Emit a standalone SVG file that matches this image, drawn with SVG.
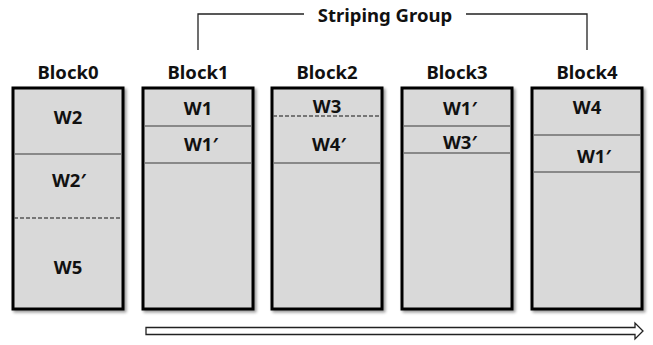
<svg xmlns="http://www.w3.org/2000/svg" width="653" height="345" viewBox="0 0 653 345">
<defs>
<filter id="sh" x="-10%" y="-10%" width="125%" height="125%">
<feGaussianBlur in="SourceAlpha" stdDeviation="1.5"/>
<feOffset dx="2" dy="2" result="b"/>
<feComponentTransfer><feFuncA type="linear" slope="0.4"/></feComponentTransfer>
<feMerge><feMergeNode/><feMergeNode in="SourceGraphic"/></feMerge>
</filter>
</defs>
<style>
.blk{fill:#d9d9d9;stroke:#000;stroke-width:3;filter:url(#sh)}
.sep{stroke:#6e6e6e;stroke-width:1.3}
.dash{stroke:#555;stroke-width:1.3;stroke-dasharray:4 2}
text{font-family:"Noto Sans","Liberation Sans",sans-serif;font-weight:bold;font-size:18.5px;fill:#111;text-anchor:middle}
.ln{fill:none;stroke:#222;stroke-width:1.3}
</style>
<rect width="653" height="345" fill="#fff"/>
<g id="block0">
<text x="68" y="79">Block0</text>
<rect class="blk" x="13" y="88" width="110" height="221"/>
<line class="sep" x1="14" y1="154" x2="122" y2="154"/>
<line class="dash" x1="14" y1="218" x2="122" y2="218"/>
<text x="68" y="124">W2</text>
<text x="69" y="187">W2′</text>
<text x="68" y="274">W5</text>
</g>
<g id="block1">
<text x="198" y="79">Block1</text>
<rect class="blk" x="143" y="88" width="110" height="221"/>
<line class="sep" x1="144" y1="126" x2="252" y2="126"/>
<line class="sep" x1="144" y1="163" x2="252" y2="163"/>
<text x="198" y="115">W1</text>
<text x="201" y="151">W1′</text>
</g>
<g id="block2">
<text x="327" y="79">Block2</text>
<rect class="blk" x="272" y="88" width="110" height="221"/>
<line class="dash" x1="273" y1="116" x2="381" y2="116"/>
<line class="sep" x1="273" y1="163" x2="381" y2="163"/>
<text x="327" y="113">W3</text>
<text x="329" y="151">W4′</text>
</g>
<g id="block3">
<text x="457" y="79">Block3</text>
<rect class="blk" x="402" y="88" width="110" height="221"/>
<line class="sep" x1="403" y1="126" x2="511" y2="126"/>
<line class="sep" x1="403" y1="153" x2="511" y2="153"/>
<text x="460" y="115">W1′</text>
<text x="460" y="149">W3′</text>
</g>
<g id="block4">
<text x="587" y="79">Block4</text>
<rect class="blk" x="532" y="88" width="110" height="221"/>
<line class="sep" x1="533" y1="135" x2="641" y2="135"/>
<line class="sep" x1="533" y1="172" x2="641" y2="172"/>
<text x="587" y="114">W4</text>
<text x="594" y="163">W1′</text>
</g>
<g id="striping-group">
<polyline class="ln" points="198,50 198,14 304,14"/>
<polyline class="ln" points="466,14 587,14 587,50"/>
<text x="385" y="22">Striping Group</text>
</g>
<g id="connectors">
<path d="M146,327.5 H635 V323 L643,331 L635,339 V334.5 H146 Z" fill="#fff" stroke="#222" stroke-width="1.3"/>
</g>
</svg>
